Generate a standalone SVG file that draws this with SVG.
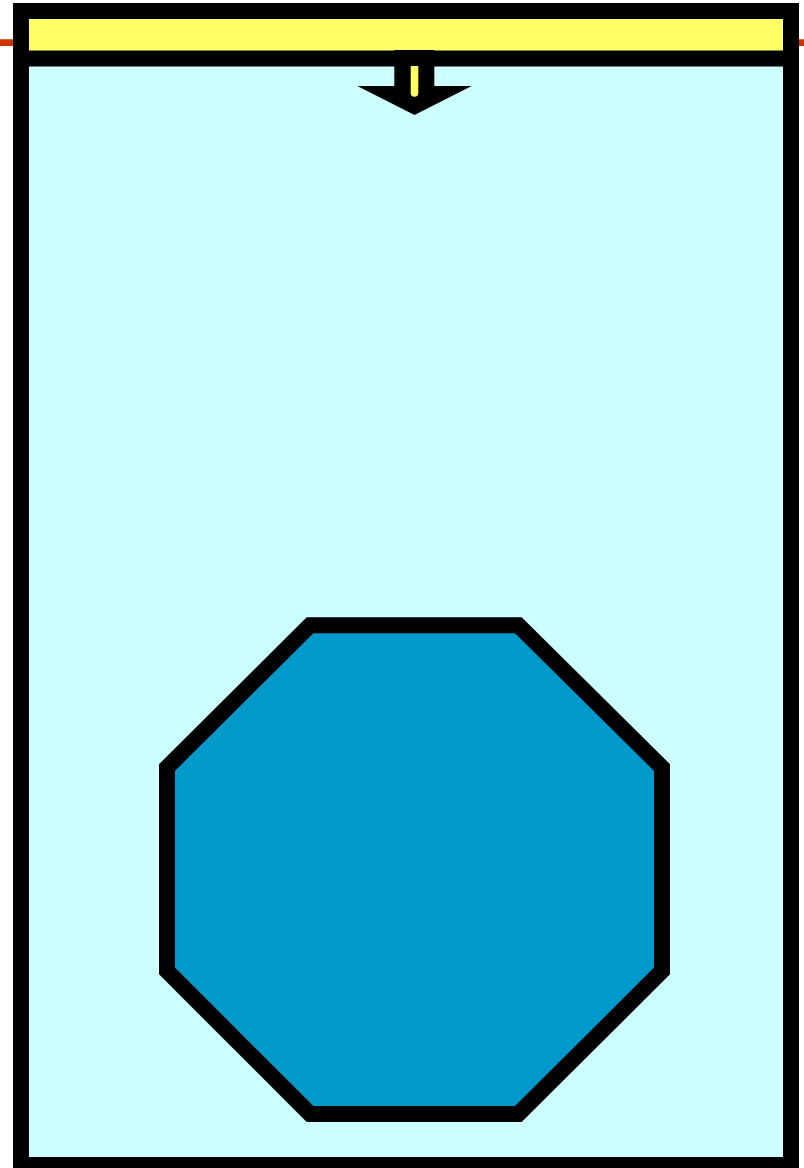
<svg xmlns="http://www.w3.org/2000/svg" width="804" height="1168" viewBox="0 0 804 1168">
  <style>
    .edge { stroke: #000000; stroke-width: 16; stroke-linejoin: miter; }
  </style>
  <rect x="0" y="0" width="804" height="1168" fill="#FFFFFF"/>
  <g id="red-line">
    <line x1="0" y1="42.6" x2="804" y2="42.6" stroke="#CC3300" stroke-width="6.8"/>
  </g>
  <g id="container">
    <rect class="edge" x="21" y="11" width="770" height="1154" fill="#CCFFFF"/>
  </g>
  <g id="header">
    <rect class="edge" x="21" y="11" width="770" height="47.5" fill="#FFFF66"/>
  </g>
  <g id="octagon">
    <polygon class="edge" fill="#0099CC" points="310,625.3 518.4,625.3 662,767.5 662,971 518.4,1114 310,1114 167,971 167,767.5"/>
  </g>
  <g id="connectors">
    <polygon fill="#000000" points="394.3,50 434.3,50 434.3,86 471.7,86 414.5,115 357.3,86 394.3,86"/>
    <path d="M410.7 66 V93 A3.8 3.8 0 0 0 418.3 93 V66 Z" fill="#FFFF66"/>
  </g>
</svg>
